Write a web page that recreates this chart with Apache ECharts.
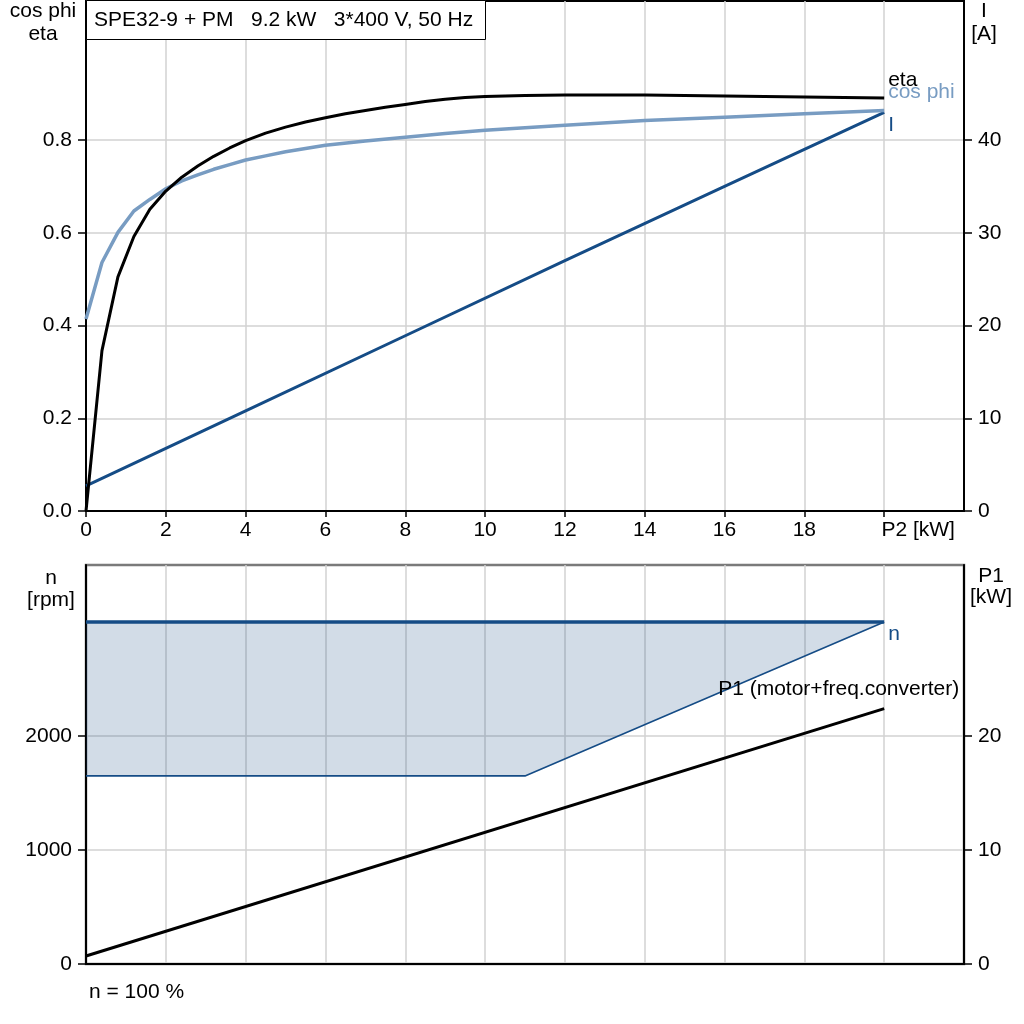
<!DOCTYPE html>
<html>
<head>
<meta charset="utf-8">
<script src="https://cdn.jsdelivr.net/npm/echarts@6/dist/echarts.min.js"></script>
<style>
html,body{margin:0;padding:0;background:#fff;}
#chart{width:1024px;height:1024px;}
</style>
</head>
<body>
<div id="chart"></div>
<script>
// ---- data ----
const titleText = 'SPE32-9 + PM   9.2 kW   3*400 V, 50 Hz';

// upper chart: x = P2 [kW]
const etaP2  = [0, 0.4, 0.8, 1.2, 1.6, 2.0, 2.4, 2.8, 3.2, 3.6, 4.0, 4.5, 5.0, 5.5, 6.0, 6.5, 7.0, 7.5, 8.0, 8.5, 9.0, 9.5, 10.0, 11.0, 12.0, 14.0, 16.0, 18.0, 20.0];
const etaVal = [0, 0.346, 0.505, 0.592, 0.651, 0.690, 0.720, 0.744, 0.765, 0.783, 0.799, 0.815, 0.828, 0.839, 0.848, 0.857, 0.864, 0.871, 0.877, 0.883, 0.888, 0.892, 0.894, 0.896, 0.897, 0.897, 0.895, 0.893, 0.891];

const cosP2  = [0, 0.4, 0.8, 1.2, 1.6, 2.0, 2.4, 2.8, 3.2, 3.6, 4.0, 4.5, 5.0, 5.5, 6.0, 7.0, 8.0, 9.0, 10.0, 12.0, 14.0, 16.0, 18.0, 20.0];
const cosVal = [0.414, 0.536, 0.601, 0.647, 0.672, 0.695, 0.712, 0.725, 0.737, 0.747, 0.757, 0.766, 0.775, 0.782, 0.789, 0.798, 0.806, 0.814, 0.821, 0.832, 0.842, 0.849, 0.857, 0.864];

const curP2  = [0, 4, 8, 12, 16, 20];
const curA   = [2.7, 10.8, 18.9, 27.0, 35.0, 43.0];

// lower chart
const nUpperP2  = [0, 20];
const nUpperRpm = [3000, 3000];
const nLowerP2  = [0, 11, 20];
const nLowerRpm = [1650, 1650, 3000];

const p1P2  = [0, 20];
const p1Val = [0.7, 22.4];

// tick labels
const xTicks      = [0, 2, 4, 6, 8, 10, 12, 14, 16, 18, 20];
const xLastLabel  = 'P2 [kW]';
const etaTicks    = [0, 0.2, 0.4, 0.6, 0.8];
const curTicks    = [0, 10, 20, 30, 40];
const rpmTicks    = [0, 1000, 2000];
const p1Ticks     = [0, 10, 20];

// ---- chart ----
const zip = (a, b) => a.map((v, i) => [v, b[i]]);
const FONT = 'Liberation Sans, Arial, sans-serif';
const FS = 21;
const DARK = '#154c86';
const LIGHT = '#789cc2';
const GRID = '#d2d2d2';

function xAxis(gi, labels) {
  return {
    type: 'value', gridIndex: gi, min: 0, max: 22, interval: 2,
    axisLine: { show: true, onZero: false, lineStyle: { color: '#000', width: 2 } },
    axisTick: { show: labels, customValues: xTicks, length: 6, lineStyle: { color: '#000', width: 1.5 } },
    axisLabel: {
      show: labels, customValues: xTicks, margin: 9,
      color: '#000', fontSize: FS, fontFamily: FONT,
      formatter: v => (Math.abs(v - 20) < 1e-9 ? '{p|' + xLastLabel + '}' : String(v)),
      rich: { p: { padding: [0, 0, 0, 68], fontSize: FS, fontFamily: FONT, color: '#000' } }
    },
    splitLine: { show: true, lineStyle: { color: GRID, width: 1.5 } }
  };
}

function yAxis(gi, pos, min, max, interval, ticks, fmt, grid) {
  return {
    type: 'value', gridIndex: gi, position: pos, min: min, max: max, interval: interval,
    axisLine: { show: true, onZero: false, lineStyle: { color: '#000', width: 2 } },
    axisTick: { show: true, customValues: ticks, length: 8, lineStyle: { color: '#000', width: 1.5 } },
    axisLabel: { customValues: ticks, margin: 14, color: '#000', fontSize: FS, fontFamily: FONT, formatter: fmt },
    splitLine: { show: grid, lineStyle: { color: GRID, width: 1.5 } }
  };
}

const chart = echarts.init(document.getElementById('chart'), null, { renderer: 'canvas' });

const option = {
  backgroundColor: '#fff',
  animation: false,
  textStyle: { fontFamily: FONT },
  grid: [
    { left: 86, right: 60, top: 1, height: 510, show: true, borderColor: '#000', borderWidth: 2, backgroundColor: 'transparent' },
    { left: 86, right: 60, top: 565, height: 399, show: true, borderColor: '#7a7a7a', borderWidth: 2.5, backgroundColor: 'transparent' }
  ],
  xAxis: [xAxis(0, true), xAxis(1, false)],
  yAxis: [
    yAxis(0, 'left', 0, 1.1, 0.1, etaTicks, v => v.toFixed(1), true),
    yAxis(0, 'right', 0, 55, 5, curTicks, v => String(v), false),
    yAxis(1, 'left', 0, 3500, 500, rpmTicks, v => String(v), true),
    yAxis(1, 'right', 0, 35, 5, p1Ticks, v => String(v), false)
  ],
  series: [
    {
      name: 'n range', type: 'custom', xAxisIndex: 1, yAxisIndex: 2, silent: true, z: 1,
      data: [[nUpperP2[0], nUpperRpm[0]]],
      renderItem: (params, api) => {
        const pts = [];
        for (let i = 0; i < nUpperP2.length; i++) pts.push(api.coord([nUpperP2[i], nUpperRpm[i]]));
        for (let i = nLowerP2.length - 1; i >= 0; i--) pts.push(api.coord([nLowerP2[i], nLowerRpm[i]]));
        return { type: 'polygon', shape: { points: pts }, style: { fill: 'rgba(28,80,136,0.2)' } };
      }
    },
    {
      name: 'n low', type: 'line', xAxisIndex: 1, yAxisIndex: 2, data: zip(nLowerP2, nLowerRpm),
      showSymbol: false, silent: true, lineStyle: { color: DARK, width: 1.6 }, z: 3
    },
    {
      name: 'n', type: 'line', xAxisIndex: 1, yAxisIndex: 2, data: zip(nUpperP2, nUpperRpm),
      showSymbol: false, silent: true, lineStyle: { color: DARK, width: 3.5 }, z: 4,
      endLabel: { show: true, formatter: 'n', color: DARK, fontSize: FS, fontFamily: FONT, distance: 4, offset: [0, 12] }
    },
    {
      name: 'P1', type: 'line', xAxisIndex: 1, yAxisIndex: 3, data: zip(p1P2, p1Val),
      showSymbol: false, silent: true, lineStyle: { color: '#000', width: 3 }, z: 4,
      endLabel: { show: true, formatter: 'P1 (motor+freq.converter)', color: '#000', fontSize: FS, fontFamily: FONT, align: 'right', distance: 0, offset: [75, -19] }
    },
    {
      name: 'I', type: 'line', xAxisIndex: 0, yAxisIndex: 1, data: zip(curP2, curA),
      showSymbol: false, silent: true, lineStyle: { color: DARK, width: 3 }, z: 3,
      endLabel: { show: true, formatter: 'I', color: DARK, fontSize: FS, fontFamily: FONT, distance: 4, offset: [0, 13] }
    },
    {
      name: 'cos phi', type: 'line', xAxisIndex: 0, yAxisIndex: 0, data: zip(cosP2, cosVal),
      showSymbol: false, silent: true,
      lineStyle: { color: LIGHT, width: 3.5, join: 'round' }, z: 4,
      endLabel: { show: true, formatter: 'cos phi', color: LIGHT, fontSize: FS, fontFamily: FONT, distance: 4, offset: [0, -18] }
    },
    {
      name: 'eta', type: 'line', xAxisIndex: 0, yAxisIndex: 0, data: zip(etaP2, etaVal),
      showSymbol: false, silent: true,
      lineStyle: { color: '#000', width: 3, join: 'round' }, z: 5,
      endLabel: { show: true, formatter: 'eta', color: '#000', fontSize: FS, fontFamily: FONT, distance: 4, offset: [0, -18] }
    }
  ],
  graphic: [
    { type: 'rect', z: 100, shape: { x: 86.5, y: 0.5, width: 399, height: 39 }, style: { fill: '#fff', stroke: '#000', lineWidth: 1 } },
    { type: 'text', z: 101, x: 94, y: 20, style: { text: titleText, font: '21px ' + FONT, fill: '#000', verticalAlign: 'middle', textAlign: 'left' } },
    { type: 'text', z: 101, x: 43, y: 0, style: { text: 'cos phi\neta', font: FS + 'px ' + FONT, lineHeight: 23, fill: '#000', textAlign: 'center', verticalAlign: 'top', align: 'center' } },
    { type: 'text', z: 101, x: 984, y: 0, style: { text: 'I\n[A]', font: FS + 'px ' + FONT, lineHeight: 23, fill: '#000', textAlign: 'center', verticalAlign: 'top', align: 'center' } },
    { type: 'text', z: 101, x: 51, y: 567, style: { text: 'n\n[rpm]', font: FS + 'px ' + FONT, lineHeight: 22, fill: '#000', textAlign: 'center', verticalAlign: 'top', align: 'center' } },
    { type: 'text', z: 101, x: 991, y: 566, style: { text: 'P1\n[kW]', font: FS + 'px ' + FONT, lineHeight: 21, fill: '#000', textAlign: 'center', verticalAlign: 'top', align: 'center' } },
    { type: 'text', z: 101, x: 89, y: 992, style: { text: 'n = 100 %', font: FS + 'px ' + FONT, fill: '#000', textAlign: 'left', verticalAlign: 'middle' } }
  ]
};
chart.setOption(option);
</script>
</body>
</html>
